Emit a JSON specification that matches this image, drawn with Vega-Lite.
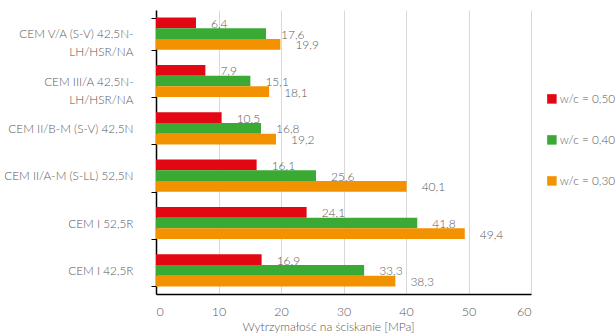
{
  "$schema": "https://vega.github.io/schema/vega-lite/v6.json",
  "width": 375,
  "height": 284,
  "autosize": "none",
  "padding": {"left": 156, "top": 10, "right": 84, "bottom": 42},
  "background": "white",
  "config": {
    "locale": {"number": {"decimal": ",", "thousands": " ", "grouping": [3], "currency": ["", " zł"]}},
    "font": "Lato",
    "view": {"stroke": null},
    "axis": {"labelFont": "Lato", "titleFont": "Lato", "labelColor": "#595959", "titleColor": "#595959", "labelFontWeight": 300, "titleFontWeight": 300},
    "legend": {"labelFont": "Lato", "labelColor": "#595959", "labelFontWeight": 300}
  },
  "data": {
    "values": [
      {"cement": "CEM V/A (S-V) 42,5N-LH/HSR/NA", "wc": "w/c = 0,50", "value": 6.4},
      {"cement": "CEM V/A (S-V) 42,5N-LH/HSR/NA", "wc": "w/c = 0,40", "value": 17.6},
      {"cement": "CEM V/A (S-V) 42,5N-LH/HSR/NA", "wc": "w/c = 0,30", "value": 19.9},
      {"cement": "CEM III/A 42,5N-LH/HSR/NA", "wc": "w/c = 0,50", "value": 7.9},
      {"cement": "CEM III/A 42,5N-LH/HSR/NA", "wc": "w/c = 0,40", "value": 15.1},
      {"cement": "CEM III/A 42,5N-LH/HSR/NA", "wc": "w/c = 0,30", "value": 18.1},
      {"cement": "CEM II/B-M (S-V) 42,5N", "wc": "w/c = 0,50", "value": 10.5},
      {"cement": "CEM II/B-M (S-V) 42,5N", "wc": "w/c = 0,40", "value": 16.8},
      {"cement": "CEM II/B-M (S-V) 42,5N", "wc": "w/c = 0,30", "value": 19.2},
      {"cement": "CEM II/A-M (S-LL) 52,5N", "wc": "w/c = 0,50", "value": 16.1},
      {"cement": "CEM II/A-M (S-LL) 52,5N", "wc": "w/c = 0,40", "value": 25.6},
      {"cement": "CEM II/A-M (S-LL) 52,5N", "wc": "w/c = 0,30", "value": 40.1},
      {"cement": "CEM I 52,5R", "wc": "w/c = 0,50", "value": 24.1},
      {"cement": "CEM I 52,5R", "wc": "w/c = 0,40", "value": 41.8},
      {"cement": "CEM I 52,5R", "wc": "w/c = 0,30", "value": 49.4},
      {"cement": "CEM I 42,5R", "wc": "w/c = 0,50", "value": 16.9},
      {"cement": "CEM I 42,5R", "wc": "w/c = 0,40", "value": 33.3},
      {"cement": "CEM I 42,5R", "wc": "w/c = 0,30", "value": 38.3}
    ]
  },
  "encoding": {
    "y": {
      "field": "cement",
      "type": "nominal",
      "sort": null,
      "scale": {"paddingInner": 0.32, "paddingOuter": 0.16},
      "axis": {
        "title": null,
        "tickBand": "extent",
        "domainColor": "#000000",
        "domainWidth": 1.5,
        "tickColor": "#000000",
        "tickSize": 5,
        "labelPadding": 18,
        "labelFontSize": 11.8,
        "labelLineHeight": 18,
        "labelLimit": 200,
        "labelExpr": "indexof(datum.label, '-LH') > 0 ? [slice(datum.label, 0, indexof(datum.label, '-LH') + 1), slice(datum.label, indexof(datum.label, '-LH') + 1)] : datum.label"
      }
    },
    "yOffset": {
      "field": "wc",
      "type": "nominal",
      "sort": ["w/c = 0,50", "w/c = 0,40", "w/c = 0,30"],
      "scale": {"paddingInner": 0, "paddingOuter": 0}
    },
    "x": {
      "field": "value",
      "type": "quantitative",
      "scale": {"domain": [0, 60]},
      "axis": {
        "title": "Wytrzymałość na ściskanie [MPa]",
        "titleFontSize": 12,
        "titleX": 172,
        "titlePadding": 4,
        "values": [0, 10, 20, 30, 40, 50, 60],
        "labelOverlap": false,
        "ticks": false,
        "domainColor": "#000000",
        "domainWidth": 1.5,
        "gridColor": "#d9d9d9",
        "gridWidth": 1,
        "labelFontSize": 12.5,
        "labelPadding": 11
      }
    }
  },
  "layer": [
    {
      "mark": {"type": "bar"},
      "encoding": {
        "color": {
          "field": "wc",
          "type": "nominal",
          "sort": ["w/c = 0,50", "w/c = 0,40", "w/c = 0,30"],
          "scale": {"domain": ["w/c = 0,50", "w/c = 0,40", "w/c = 0,30"], "range": ["#e30613", "#3aaa35", "#f39200"]},
          "legend": {
            "title": null,
            "orient": "none",
            "legendX": 390,
            "legendY": 83,
            "symbolType": "square",
            "symbolSize": 90,
            "symbolStrokeWidth": 0,
            "labelFontSize": 11.8,
            "labelOffset": 2,
            "rowPadding": 28
          }
        }
      }
    },
    {
      "mark": {"type": "text", "align": "left", "baseline": "middle", "dx": 15, "dy": 1, "fontSize": 12, "fontWeight": 300, "color": "#595959"},
      "encoding": {
        "text": {"field": "value", "type": "quantitative", "format": ".1f"}
      }
    }
  ]
}
